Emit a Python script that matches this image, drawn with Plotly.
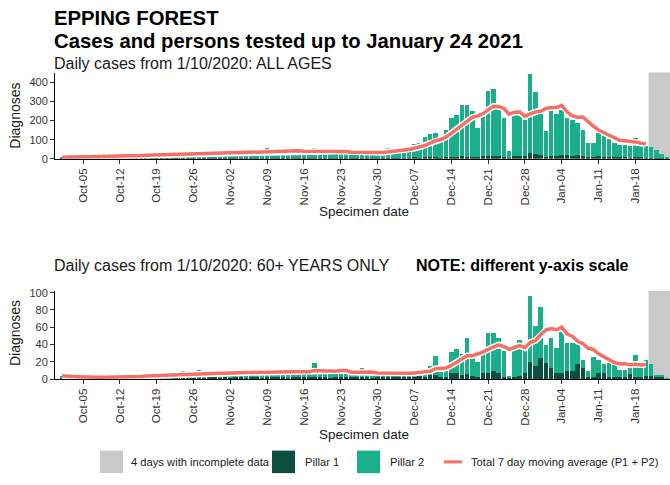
import pandas as pd
import plotly.graph_objects as go

# ---------------- data ----------------
dates = pd.date_range("2020-10-01", "2021-01-24", freq="D")
tick_dates = pd.date_range("2020-10-05", "2021-01-18", freq="7D")

# All ages: total daily cases (Pillar 1 + Pillar 2), by month
all_total_oct = [8, 11, 9, 12, 10, 13, 12, 15, 13, 16, 14, 17, 18, 16, 20, 18, 21, 19, 23, 21,
                 24, 26, 23, 27, 25, 28, 26, 29, 27, 31, 30]
all_total_nov = [31, 33, 32, 35, 34, 37, 36, 39, 55, 38, 41, 40, 37, 41, 38, 36, 39, 58, 35, 37,
                 34, 36, 32, 31, 30, 29, 50, 28, 30, 27]
all_total_dec = [38, 55, 46, 52, 58, 62, 76, 84, 115, 130, 135, 104, 152, 212, 232, 283, 283, 250, 160, 229,
                 357, 366, 272, 212, 41, 232, 237, 203, 446, 349, 237]
all_total_jan = [144, 263, 237, 280, 212, 203, 186, 152, 84, 84, 135, 118, 101, 84, 70, 70, 67, 108, 72, 67,
                 60, 45, 27, 10]

# All ages: Pillar 1 cases
all_p1_oct = [2, 1, 2, 3, 1, 2, 2, 3, 2, 1, 3, 2, 2, 3, 2, 3, 2, 2, 3, 3, 2, 4, 3, 2, 3, 4, 3, 2, 4, 3, 3]
all_p1_nov = [3, 4, 3, 2, 4, 3, 5, 4, 3, 4, 5, 3, 4, 4, 3, 5, 4, 3, 4, 5, 3, 4, 3, 4, 3, 4, 5, 3, 4, 3]
all_p1_dec = [4, 5, 4, 6, 5, 6, 7, 6, 8, 7, 9, 6, 8, 10, 9, 12, 11, 10, 8, 12, 14, 15, 13, 11, 3, 12, 14, 12,
              28, 24, 18]
all_p1_jan = [10, 15, 14, 17, 19, 16, 18, 14, 8, 7, 12, 11, 9, 8, 7, 7, 6, 8, 7, 6, 6, 4, 3, 1]

# 60+ years: total daily cases
old_total_oct = [4, 2, 3, 2, 1, 2, 2, 3, 2, 3, 2, 4, 3, 3, 4, 3, 6, 4, 5, 4, 5, 6, 5, 9, 6, 5, 10, 6, 7, 6, 7]
old_total_nov = [7, 8, 11, 7, 8, 6, 7, 8, 9, 7, 8, 12, 8, 7, 9, 7, 8, 19, 8, 7, 8, 7, 13, 7, 6, 7, 13, 6, 5, 6]
old_total_dec = [6, 7, 6, 7, 8, 7, 9, 10, 8, 15, 27, 8, 12, 31, 35, 29, 48, 26, 20, 30,
                 53, 53, 48, 33, 4, 35, 45, 37, 96, 61, 83]
old_total_jan = [40, 47, 36, 57, 42, 42, 42, 22, 9, 26, 22, 18, 19, 18, 11, 11, 15, 28, 13, 22,
                 18, 5, 5, 1]

# 60+ years: Pillar 1 cases
old_p1_oct = [1, 0, 1, 1, 0, 1, 1, 1, 1, 0, 1, 1, 1, 1, 1, 1, 2, 1, 1, 2, 1, 1, 2, 2, 1, 1, 2, 1, 2, 2, 1]
old_p1_nov = [2, 1, 3, 2, 1, 2, 2, 1, 2, 2, 3, 2, 1, 2, 2, 3, 2, 3, 2, 2, 1, 2, 3, 2, 2, 3, 2, 2, 1, 2]
old_p1_dec = [2, 2, 3, 2, 3, 2, 3, 4, 3, 5, 5, 2, 3, 7, 7, 5, 6, 4, 3, 7, 7, 9, 7, 3, 1, 3, 4, 7, 20, 15, 24]
old_p1_jan = [19, 13, 7, 7, 9, 9, 17, 13, 3, 3, 7, 7, 3, 3, 3, 3, 6, 3, 3, 4, 4, 2, 2, 0]

INCOMPLETE_DAYS = 4

all_total = pd.Series(all_total_oct + all_total_nov + all_total_dec + all_total_jan, index=dates)
all_p1 = pd.Series(all_p1_oct + all_p1_nov + all_p1_dec + all_p1_jan, index=dates)
old_total = pd.Series(old_total_oct + old_total_nov + old_total_dec + old_total_jan, index=dates)
old_p1 = pd.Series(old_p1_oct + old_p1_nov + old_p1_dec + old_p1_jan, index=dates)

# ---------------- styling ----------------
W, H = 670, 485
FONT = "Liberation Sans, Arial, sans-serif"
C_P1 = "#0C4F3E"
C_P2 = "#1AAF8B"
C_GREY = "#C9C9C9"
C_MA = "#F56F68"
TXT = "#1a1a1a"

X0 = pd.Timestamp("2020-10-01") - pd.Timedelta(hours=32)
X1 = pd.Timestamp("2021-01-24") + pd.Timedelta(hours=14)
grey_start = dates[-INCOMPLETE_DAYS] - pd.Timedelta(hours=12)


def px(x):
    return x / W


def py(y):
    return 1 - y / H


fig = go.Figure()


def add_panel(total, p1, xa, ya):
    p2 = total - p1
    fig.add_trace(go.Bar(x=dates, y=p1, marker=dict(color=C_P1, line_width=0),
                         name="Pillar 1", showlegend=False, xaxis=xa, yaxis=ya))
    fig.add_trace(go.Bar(x=dates, y=p2, marker=dict(color=C_P2, line_width=0),
                         name="Pillar 2", showlegend=False, xaxis=xa, yaxis=ya))
    ma = total.rolling(7, min_periods=1).mean().iloc[:-INCOMPLETE_DAYS]
    fig.add_trace(go.Scatter(x=ma.index, y=ma.values, mode="lines",
                             line=dict(color="white", width=6.5), hoverinfo="skip",
                             showlegend=False, xaxis=xa, yaxis=ya))
    fig.add_trace(go.Scatter(x=ma.index, y=ma.values, mode="lines",
                             line=dict(color=C_MA, width=3.5),
                             name="Total 7 day moving average (P1 + P2)",
                             showlegend=False, xaxis=xa, yaxis=ya))


add_panel(all_total, all_p1, "x", "y")
add_panel(old_total, old_p1, "x2", "y2")

xaxis_common = dict(
    type="date", range=[X0, X1], tickvals=tick_dates, tickformat="%b-%d", tickangle=-90,
    ticks="outside", ticklen=4, tickcolor="#333333", showline=True, linecolor="#000000",
    linewidth=1, showgrid=False, zeroline=False,
    tickfont=dict(family=FONT, size=11.5, color="#333333"), domain=[px(55), 1],
)
yaxis_common = dict(
    ticks="outside", ticklen=4, tickcolor="#333333", showline=True, linecolor="#000000",
    linewidth=1, showgrid=False, zeroline=False,
    tickfont=dict(family=FONT, size=11, color="#333333"),
)

fig.update_layout(
    width=W, height=H, margin=dict(l=0, r=0, t=0, b=0),
    paper_bgcolor="white", plot_bgcolor="white",
    barmode="stack", bargap=0.14, showlegend=False,
    font=dict(family=FONT, color=TXT),
    xaxis=dict(xaxis_common, anchor="y"),
    yaxis=dict(yaxis_common, anchor="x", domain=[py(158), py(70)], range=[0, 452],
               tickvals=[0, 100, 200, 300, 400]),
    xaxis2=dict(xaxis_common, anchor="y2"),
    yaxis2=dict(yaxis_common, anchor="x2", domain=[py(383), py(293)], range=[0, 102],
                tickvals=[0, 20, 40, 60, 80, 100]),
)

# incomplete-data band in both panels
for xr, yr in (("x", "y domain"), ("x2", "y2 domain")):
    fig.add_shape(type="rect", xref=xr, yref=yr, x0=grey_start, x1=X1, y0=0, y1=1,
                  fillcolor=C_GREY, line_width=0, layer="below")


def label(text, x, y, size, bold=False, xanchor="left", angle=0, color=TXT):
    fig.add_annotation(text=f"<b>{text}</b>" if bold else text, x=px(x), y=py(y),
                       xref="paper", yref="paper", xanchor=xanchor, yanchor="middle",
                       showarrow=False, textangle=angle, borderpad=0,
                       font=dict(family=FONT, size=size, color=color))


label("EPPING FOREST", 53, 14.5, 20.3, bold=True, color="#000000")
label("Cases and persons tested up to January 24 2021", 53, 37.5, 20.3, bold=True, color="#000000")
label("Daily cases from 1/10/2020: ALL AGES", 53, 60.5, 16)
label("Daily cases from 1/10/2020: 60+ YEARS ONLY", 53, 267.5, 16)
label("NOTE: different y-axis scale", 415, 267.5, 16, bold=True, color="#000000")
label("Diagnoses", 15, 114, 14, xanchor="center", angle=-90)
label("Diagnoses", 15, 336, 14, xanchor="center", angle=-90)
label("Specimen date", 364, 212, 13.5, xanchor="center")
label("Specimen date", 364, 440, 13.5, xanchor="center")

# legend row
LY = 467.5
for x0, x1, col in ((100, 123, C_GREY), (272, 295, C_P1), (357, 380, C_P2)):
    fig.add_shape(type="rect", xref="paper", yref="paper", x0=px(x0), x1=px(x1),
                  y0=py(LY + 11.5), y1=py(LY - 11.5), fillcolor=col, line_width=0)
fig.add_shape(type="line", xref="paper", yref="paper", x0=px(444), x1=px(462),
              y0=py(LY), y1=py(LY), line=dict(color=C_MA, width=3))
label("4 days with incomplete data", 130, LY, 11.2)
label("Pillar 1", 304, LY, 11.2)
label("Pillar 2", 389, LY, 11.2)
label("Total 7 day moving average (P1 + P2)", 470, LY, 11.2)

fig.write_html("out.html")
